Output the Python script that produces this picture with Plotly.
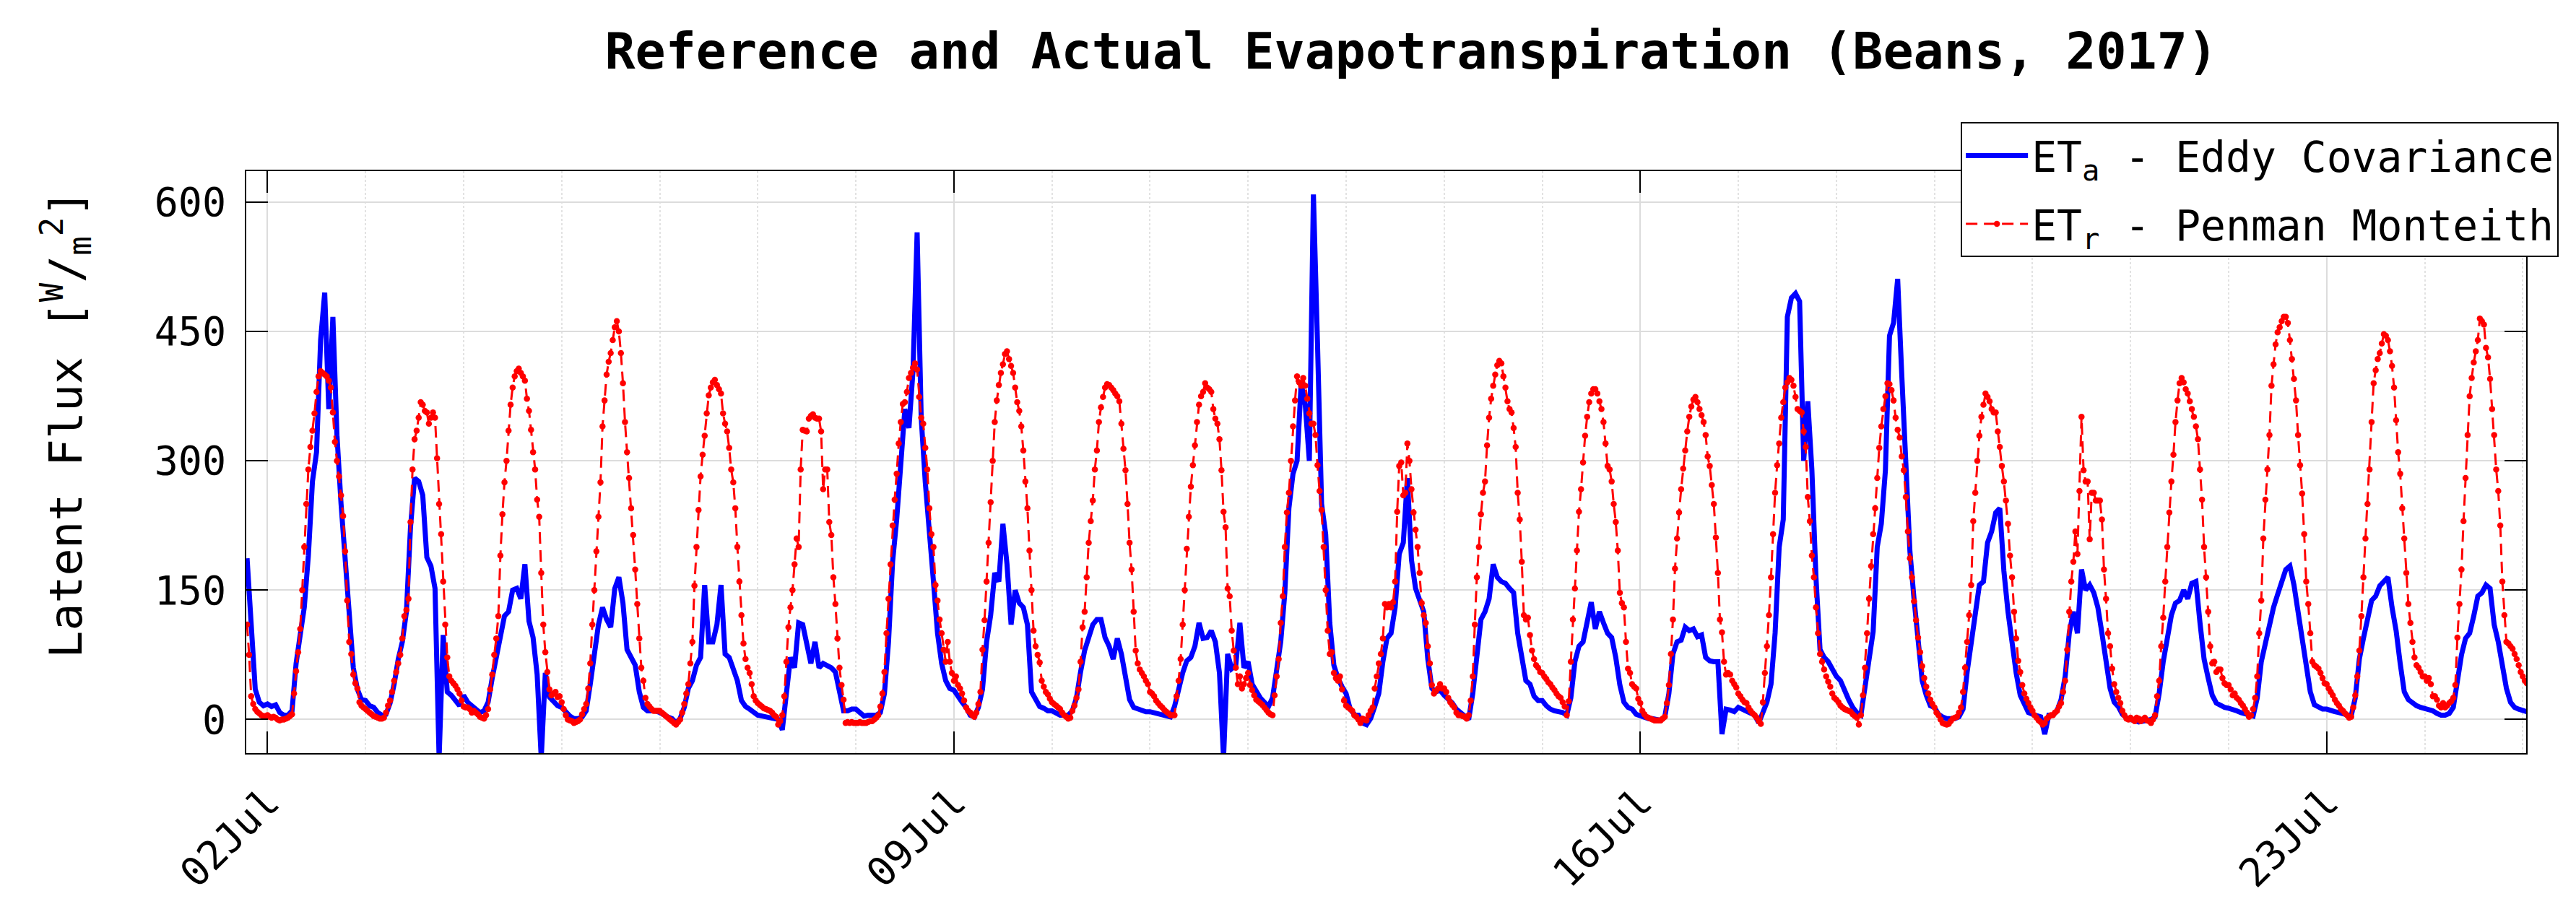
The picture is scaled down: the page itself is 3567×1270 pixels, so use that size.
import pandas as pd
import plotly.graph_objects as go

# ET_r (Penman Monteith), half-hourly values starting 01-Jul-2017 19:00
etr = [
    # 01-Jul 19:00-23:30
    110, 75, 27, 18, 12, 9, 7, 5, 4, 4,
    # 02-Jul
    5, 3, 2, 3, 2, 0, -1, 0, 0, 1, 2, 4,
    6, 30, 56, 78, 105, 150, 200, 250, 290, 316, 335, 355,
    380, 398, 404, 402, 400, 398, 393, 385, 356, 322, 300, 282,
    260, 236, 195, 138, 90, 76, 52, 42, 36, 20, 16, 14,
    # 03-Jul
    12, 10, 8, 6, 4, 3, 2, 1, 1, 2, 8, 16,
    22, 32, 45, 55, 65, 75, 94, 120, 127, 140, 229, 290,
    325, 335, 350, 368, 365, 358, 356, 343, 350, 356, 350, 303,
    250, 215, 160, 110, 72, 50, 45, 42, 39, 35, 30, 22,
    # 04-Jul
    15, 14, 14, 12, 8, 10, 8, 6, 3, 2, 1, 5,
    12, 35, 52, 75, 94, 120, 190, 238, 275, 300, 335, 365,
    385, 398, 404, 407, 402, 398, 393, 372, 358, 336, 310, 290,
    255, 235, 170, 110, 78, 55, 35, 28, 30, 32, 26, 27,
    # 05-Jul
    20, 12, 5, 0, -1, -2, -4, -3, -2, 0, 6, 12,
    18, 36, 65, 110, 150, 195, 235, 275, 340, 370, 400, 415,
    425, 440, 455, 462, 450, 425, 390, 345, 310, 280, 245, 214,
    174, 134, 94, 60, 45, 25, 18, 15, 12, 10, 10, 10,
    # 06-Jul
    10, 8, 6, 4, 2, 0, -2, -4, -6, -3, 0, 8,
    18, 30, 41, 65, 90, 155, 200, 243, 282, 307, 329, 355,
    376, 385, 391, 394, 388, 383, 378, 355, 343, 334, 315, 290,
    275, 245, 200, 160, 121, 88, 70, 60, 54, 41, 27, 22,
    # 07-Jul
    19, 17, 15, 13, 12, 11, 10, 8, 5, 3, -6, -2,
    5, 27, 67, 107, 130, 150, 180, 210, 200, 290, 336, 335,
    334, 349, 352, 354, 350, 349, 349, 334, 267, 290, 290, 229,
    214, 165, 134, 94, 60, 40, 23, -4, -3, -4, -3, -4,
    # 08-Jul
    -4, -4, -3, -4, -4, -4, -3, -2, -2, 0, 2, 5,
    15, 30, 55, 100, 140, 180, 225, 255, 285, 320, 345, 366,
    368, 380, 396, 402, 408, 413, 406, 374, 350, 343, 315, 290,
    245, 215, 200, 156, 138, 116, 100, 81, 67, 90, 67, 54,
    # 09-Jul
    45, 50, 40, 36, 30, 22, 14, 10, 8, 5, 3, 8,
    18, 32, 81, 115, 160, 205, 252, 300, 345, 370, 388, 402,
    412, 424, 427, 418, 410, 402, 385, 368, 358, 340, 312, 276,
    245, 196, 150, 103, 85, 75, 66, 45, 38, 32, 29, 24,
    # 10-Jul
    20, 18, 16, 14, 12, 8, 5, 3, 1, 2, 10, 16,
    25, 35, 67, 107, 125, 165, 205, 230, 254, 290, 312, 345,
    362, 374, 385, 389, 388, 385, 382, 378, 375, 369, 343, 314,
    289, 250, 205, 174, 125, 80, 65, 58, 54, 50, 45, 41,
    # 11-Jul
    32, 30, 27, 22, 19, 16, 14, 11, 9, 7, 5, 5,
    5, 27, 45, 70, 110, 150, 198, 235, 270, 295, 318, 345,
    365, 375, 380, 390, 385, 383, 380, 360, 349, 343, 325, 289,
    241, 223, 152, 143, 103, 80, 60, 41, 50, 36, 41, 48,
    # 12-Jul
    54, 40, 34, 28, 23, 21, 19, 17, 14, 11, 8, 6,
    5, 28, 50, 70, 112, 143, 200, 240, 263, 300, 340, 370,
    398, 391, 387, 396, 387, 372, 355, 343, 343, 330, 295, 265,
    243, 200, 150, 103, 76, 78, 54, 48, 45, 50, 35, 22,
    # 13-Jul
    16, 14, 12, 10, 5, 3, 0, -4, 1, 0, -1, 5,
    10, 14, 36, 50, 65, 76, 94, 134, 130, 134, 130, 136,
    160, 241, 294, 298, 260, 263, 320, 300, 267, 240, 220, 200,
    170, 135, 121, 112, 85, 65, 40, 30, 33, 36, 41, 36,
    # 14-Jul
    36, 32, 25, 20, 17, 14, 8, 5, 5, 4, 3, 1,
    5, 22, 50, 110, 165, 200, 238, 263, 276, 318, 350, 372,
    387, 400, 411, 416, 413, 398, 385, 369, 360, 356, 338, 316,
    263, 232, 183, 121, 116, 118, 98, 80, 70, 63, 60, 55,
    # 15-Jul
    54, 50, 47, 43, 41, 37, 34, 30, 27, 25, 20, 15,
    5, 21, 67, 116, 152, 196, 241, 267, 298, 329, 351, 368,
    378, 383, 383, 378, 369, 360, 345, 320, 294, 290, 276, 250,
    229, 196, 147, 135, 130, 90, 59, 54, 41, 38, 36, 24,
    # 16-Jul
    19, 10, 6, 3, 2, 1, 0, -1, -1, -1, -1, 1,
    3, 19, 40, 76, 116, 175, 210, 240, 267, 291, 312, 334,
    351, 363, 371, 374, 368, 360, 353, 345, 330, 305, 294, 272,
    250, 211, 170, 116, 101, 67, 52, 54, 52, 45, 41, 37,
    # 17-Jul
    30, 27, 23, 20, 19, 14, 10, 7, 5, 2, -2, -5,
    20, 54, 85, 121, 165, 215, 263, 295, 320, 350, 368, 385,
    391, 396, 394, 387, 374, 360, 358, 356, 334, 316, 258, 230,
    190, 165, 130, 100, 76, 67, 58, 50, 44, 38, 30, 25,
    # 18-Jul
    23, 20, 16, 14, 12, 11, 10, 9, 6, 4, 2, -6,
    5, 28, 60, 100, 140, 178, 215, 245, 280, 315, 340, 360,
    375, 390, 389, 382, 370, 350, 336, 327, 305, 289, 258, 218,
    187, 165, 137, 115, 95, 78, 62, 48, 38, 30, 23, 18,
    # 19-Jul
    14, 8, 5, 0, -4, -5, -6, -5, -2, 1, 2, 3,
    8, 14, 32, 60, 90, 121, 156, 230, 263, 300, 329, 351,
    365, 378, 374, 369, 360, 356, 356, 334, 316, 294, 276, 254,
    227, 190, 165, 125, 94, 68, 55, 40, 30, 24, 19, 14,
    # 20-Jul
    10, 5, 2, -1, -3, -6, -4, 1, 3, 5, 5, 8,
    10, 15, 19, 32, 45, 81, 125, 160, 183, 218, 192, 265,
    351, 289, 276, 276, 209, 263, 263, 254, 254, 254, 232, 174,
    140, 100, 85, 59, 41, 32, 25, 19, 10, 5, 1, 0,
    # 21-Jul
    2, 0, -2, 2, 1, -2, 0, 2, -1, -2, -4, 0,
    5, 27, 45, 85, 118, 160, 200, 240, 276, 307, 345, 370,
    390, 396, 391, 383, 378, 369, 360, 351, 340, 325, 290, 255,
    200, 165, 125, 85, 65, 67, 55, 58, 58, 48, 42, 40,
    # 22-Jul
    40, 35, 28, 30, 25, 23, 19, 16, 12, 8, 3, 5,
    12, 25, 50, 100, 138, 210, 255, 290, 330, 387, 412, 435,
    449, 455, 462, 467, 467, 460, 440, 418, 395, 370, 330, 295,
    262, 215, 160, 134, 100, 67, 63, 61, 59, 54, 48, 42,
    # 23-Jul
    41, 36, 32, 28, 23, 19, 16, 12, 10, 7, 5, 2,
    3, 14, 28, 50, 80, 120, 165, 210, 250, 290, 345, 390,
    405, 418, 425, 436, 447, 445, 440, 427, 410, 385, 347, 310,
    285, 245, 210, 170, 134, 112, 90, 72, 63, 60, 55, 50,
    # 24-Jul
    50, 45, 48, 41, 27, 27, 23, 16, 14, 19, 14, 16,
    19, 21, 25, 40, 95, 134, 174, 230, 280, 330, 375, 396,
    414, 427, 440, 465, 462, 458, 431, 420, 395, 360, 330, 290,
    265, 225, 160, 121, 90, 88, 85, 82, 76, 70, 63, 55,
    # 25-Jul 00:00-01:00
    50, 45, 42,
]

# ET_a (Eddy Covariance), hourly values starting 01-Jul-2017 19:00
eta = [
    # 01-Jul 19:00-23:00
    187, 110, 35, 20, 16,
    # 02-Jul
    18, 15, 17, 8, 5, 5, 10, 65, 98, 130, 190, 276,
    310, 440, 495, 360, 467, 330, 250, 190, 120, 60, 35, 23,
    # 03-Jul
    22, 16, 14, 8, 5, 6, 19, 41, 70, 90, 125, 223,
    280, 276, 260, 188, 178, 152, -45, 98, 32, 28, 22, 16,
    # 04-Jul
    28, 20, 16, 12, 8, 10, 20, 48, 72, 92, 120, 125,
    150, 152, 140, 180, 114, 95, 52, -45, 54, 26, 20, 16,
    # 05-Jul
    14, 8, 4, 1, 1, 3, 10, 41, 72, 110, 130, 116,
    107, 152, 165, 135, 81, 72, 63, 32, 14, 10, 10, 10,
    # 06-Jul
    8, 5, 3, 1, -4, 1, 14, 36, 45, 63, 72, 156,
    90, 90, 110, 156, 76, 72, 59, 45, 22, 15, 12, 8,
    # 07-Jul
    5, 4, 3, 2, 1, 0, -12, 35, 72, 60, 112, 110,
    85, 65, 90, 60, 65, 63, 60, 55, 30, 10, 10, 12,
    # 08-Jul
    12, 8, 4, 5, 5, 5, 8, 30, 90, 183, 232, 300,
    360, 338, 405, 565, 350, 275, 223, 160, 100, 65, 45, 36,
    # 09-Jul
    34, 26, 20, 14, 5, 3, 14, 35, 90, 121, 170, 160,
    227, 180, 110, 150, 135, 130, 110, 32, 23, 15, 13, 10,
    # 10-Jul
    10, 8, 5, 5, 5, 10, 25, 55, 80, 95, 110, 116,
    116, 95, 85, 70, 94, 76, 50, 23, 14, 12, 10, 9,
    # 11-Jul
    9, 8, 6, 5, 5, 3, 15, 36, 54, 68, 72, 85,
    112, 94, 95, 103, 90, 54, -45, 76, 59, 63, 112, 60,
    # 12-Jul
    67, 41, 32, 25, 20, 15, 25, 54, 90, 147, 245, 285,
    300, 390, 365, 300, 609, 436, 250, 215, 112, 63, 48, 38,
    # 13-Jul
    30, 12, 6, 5, -4, -6, 1, 15, 30, 67, 94, 100,
    130, 192, 205, 280, 185, 152, 138, 125, 70, 36, 32, 34,
    # 14-Jul
    28, 24, 19, 12, 8, 3, 0, 30, 78, 116, 125, 140,
    180, 165, 160, 158, 152, 147, 100, 76, 45, 41, 27, 22,
    # 15-Jul
    22, 16, 12, 10, 9, 8, 5, 25, 67, 85, 90, 116,
    136, 105, 125, 112, 100, 95, 72, 40, 20, 14, 12, 6,
    # 16-Jul
    4, 2, 1, 1, 0, -1, 3, 30, 76, 90, 92, 107,
    103, 105, 96, 98, 72, 68, 67, 67, -17, 12, 11, 9,
    # 17-Jul
    14, 12, 10, 7, 5, -4, 10, 20, 41, 100, 200, 232,
    467, 489, 494, 485, 300, 369, 290, 165, 81, 72, 67, 58,
    # 18-Jul
    50, 45, 32, 23, 14, 8, 5, 40, 70, 102, 200, 227,
    289, 445, 460, 511, 400, 289, 195, 140, 90, 45, 28, 16,
    # 19-Jul
    14, 6, 3, 1, 1, 1, 3, 12, 55, 90, 125, 156,
    160, 205, 218, 240, 245, 172, 125, 85, 54, 28, 16, 8,
    # 20-Jul
    6, 4, 3, -17, 5, 5, 10, 23, 50, 100, 125, 100,
    174, 150, 156, 147, 130, 100, 67, 36, 20, 15, 6, 2,
    # 21-Jul
    0, -2, -3, -2, -1, 0, 3, 30, 67, 92, 121, 135,
    138, 150, 140, 158, 160, 112, 70, 48, 28, 19, 16, 14,
    # 22-Jul
    13, 12, 10, 8, 7, 5, 4, 25, 67, 88, 112, 130,
    145, 162, 174, 178, 156, 125, 94, 60, 32, 17, 14, 12,
    # 23-Jul
    12, 10, 9, 8, 7, 5, 4, 25, 70, 94, 115, 138,
    143, 155, 160, 165, 130, 103, 65, 32, 23, 19, 16, 14,
    # 24-Jul
    13, 12, 10, 7, 5, 5, 7, 14, 45, 75, 94, 100,
    120, 143, 147, 156, 152, 110, 90, 60, 36, 20, 14, 12,
    # 25-Jul
    10, 9,
]

series_start = "2017-07-01 19:00"
x_limits = ["2017-07-01 18:48", "2017-07-25 00:50"]
tick_days = ["2017-07-02", "2017-07-09", "2017-07-16", "2017-07-23"]
tick_labels = ["02Jul", "09Jul", "16Jul", "23Jul"]
y_limits = [-39, 636]
y_ticks = [0, 150, 300, 450, 600]

FONT = "DejaVu Sans Mono"

t_etr = pd.date_range(series_start, periods=len(etr), freq="30min")
t_eta = pd.date_range(series_start, periods=len(eta), freq="h")

fig = go.Figure()
fig.add_trace(go.Scatter(
    x=t_eta, y=eta, mode="lines",
    name="ET<sub>a</sub> - Eddy Covariance", legendgroup="a",
    line=dict(color="rgb(0,0,255)", width=7),
))
fig.add_trace(go.Scatter(
    x=t_etr, y=etr, mode="lines+markers",
    name="ET<sub>r</sub> - Penman Monteith", legendgroup="r",
    line=dict(color="rgb(255,0,0)", width=3, dash="16px,9px"),
    marker=dict(color="rgb(255,0,0)", size=8.5),
))

fig.update_layout(
    width=3567, height=1270, autosize=False,
    paper_bgcolor="white", plot_bgcolor="white",
    margin=dict(l=333, r=77, t=229, b=235),
    font=dict(family=FONT, color="black", size=55),
    title=dict(
        text="Reference and Actual Evapotranspiration (Beans, 2017)",
        font=dict(family=FONT, size=70, weight="bold", color="black"),
        x=0.511, xref="paper", xanchor="center",
        y=1 - 62 / 1270, yref="container", yanchor="middle",
    ),
    legend=dict(
        x=1.0143, y=1.084, xanchor="right", yanchor="top",
        bgcolor="white", bordercolor="black", borderwidth=2,
        font=dict(family=FONT, size=58, color="black"),
        itemwidth=86, tracegroupgap=16,
    ),
    showlegend=True,
    annotations=[dict(
        text="Latent Flux [<sup>W</sup>/<sub>m</sub><sup>2</sup>]",
        textangle=-90, xref="paper", yref="paper",
        x=-0.079, y=0.566, xanchor="center", yanchor="middle",
        showarrow=False, font=dict(family=FONT, size=63, color="black"),
    )],
)

fig.update_xaxes(
    type="date", range=x_limits,
    tickmode="array", tickvals=tick_days, ticktext=tick_labels,
    tickangle=-45, tickfont=dict(family=FONT, size=55),
    ticklabelstandoff=12,
    ticks="inside", ticklen=30, tickwidth=2, tickcolor="black",
    showline=True, linecolor="black", linewidth=2, mirror="ticks",
    showgrid=True, gridcolor="#dcdcdc", gridwidth=2,
    minor=dict(tickmode="linear", tick0="2017-07-02", dtick=86400000,
               showgrid=True, gridcolor="#e2e2e2", gridwidth=2,
               griddash="dot", ticks=""),
    zeroline=False,
)
fig.update_yaxes(
    range=y_limits, tickmode="array", tickvals=y_ticks,
    tickfont=dict(family=FONT, size=55),
    ticklabelstandoff=15,
    ticks="inside", ticklen=30, tickwidth=2, tickcolor="black",
    showline=True, linecolor="black", linewidth=2, mirror="ticks",
    showgrid=True, gridcolor="#dcdcdc", gridwidth=2,
    zeroline=False,
)

fig.write_html("out.html")
